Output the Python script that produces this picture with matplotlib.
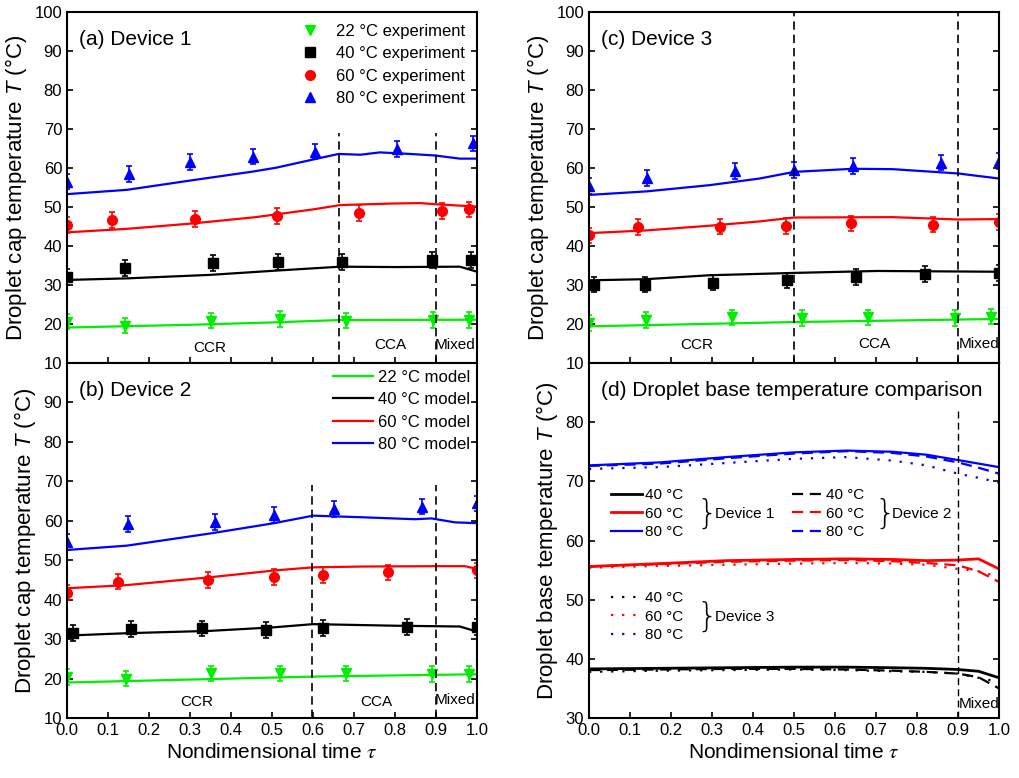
import matplotlib.pyplot as plt

plt.rcParams['font.family'] = ['Liberation Sans', 'DejaVu Sans']
plt.rcParams['mathtext.fontset'] = 'custom'
plt.rcParams['mathtext.it'] = 'Liberation Sans:italic'
plt.rcParams['mathtext.rm'] = 'Liberation Sans'

GREEN = '#00ee00'
COLORS = {22: GREEN, 40: 'black', 60: '#ff0000', 80: '#0000ff'}
MARKERS = {22: 'v', 40: 's', 60: 'o', 80: '^'}
ERR = 2.0

# ---- (a) Device 1 ----
A22_TAU = [0.0, 0.142, 0.35, 0.52, 0.68, 0.892, 0.981]
A22_T = [20.6, 19.6, 20.9, 21.3, 20.9, 21.1, 21.1]
A40_TAU = [0.0, 0.142, 0.355, 0.515, 0.67, 0.889, 0.985]
A40_T = [32.1, 34.4, 35.7, 35.9, 35.9, 36.4, 36.4]
A60_TAU = [0.0, 0.11, 0.312, 0.513, 0.713, 0.914, 0.981]
A60_T = [45.4, 46.7, 47.0, 47.7, 48.5, 49.0, 49.4]
A80_TAU = [0.0, 0.15, 0.30, 0.454, 0.605, 0.804, 0.989]
A80_T = [56.5, 58.5, 61.5, 62.9, 64.2, 64.9, 66.3]

A22M_TAU = [0, 0.3, 0.5, 0.66, 1.0]
A22M_T = [19.1, 19.8, 20.4, 21.0, 21.1]
A40M_TAU = [0, 0.146, 0.349, 0.511, 0.666, 0.8, 0.958, 1.0]
A40M_T = [31.3, 31.7, 32.6, 33.7, 34.7, 34.6, 34.7, 33.4]
A60M_TAU = [0, 0.146, 0.308, 0.46, 0.601, 0.666, 0.797, 0.862, 0.9, 1.0]
A60M_T = [43.5, 44.4, 45.8, 47.4, 49.4, 50.5, 50.9, 51.0, 50.7, 50.1]
A80M_TAU = [0, 0.146, 0.308, 0.454, 0.511, 0.601, 0.662, 0.715, 0.763, 0.837, 0.898, 0.958, 1.0]
A80M_T = [53.3, 54.4, 56.9, 59.1, 60.1, 62.2, 63.6, 63.4, 64.0, 63.6, 63.2, 62.4, 62.4]

# ---- (b) Device 2 ----
B22_TAU = [0.0, 0.143, 0.35, 0.52, 0.68, 0.89, 0.98]
B22_T = [20.3, 20.0, 21.3, 21.3, 21.3, 21.2, 21.2]
B40_TAU = [0.014, 0.155, 0.328, 0.485, 0.625, 0.83, 1.0]
B40_T = [31.5, 32.5, 32.7, 32.3, 32.8, 33.0, 33.0]
B60_TAU = [0.0, 0.125, 0.343, 0.505, 0.625, 0.782, 1.0]
B60_T = [41.8, 44.6, 44.9, 45.7, 46.3, 46.9, 47.4]
B80_TAU = [0.0, 0.148, 0.362, 0.505, 0.65, 0.866, 1.0]
B80_T = [54.7, 59.2, 59.6, 61.5, 63.0, 63.6, 64.4]

B22M_TAU = [0, 0.6, 1.0]
B22M_T = [19.0, 20.5, 21.1]
B40M_TAU = [0, 0.146, 0.35, 0.505, 0.6, 0.8, 0.958, 1.0]
B40M_T = [30.9, 31.5, 32.1, 33.0, 33.8, 33.4, 33.2, 31.9]
B60M_TAU = [0, 0.146, 0.35, 0.505, 0.6, 0.718, 0.9, 0.97, 1.0]
B60M_T = [42.9, 43.7, 45.7, 47.4, 48.2, 48.4, 48.5, 48.5, 47.8]
B80M_TAU = [0, 0.146, 0.35, 0.505, 0.6, 0.718, 0.848, 0.889, 0.946, 1.0]
B80M_T = [52.6, 53.7, 56.8, 59.4, 61.3, 60.9, 60.4, 60.6, 59.6, 59.4]

# ---- (c) Device 3 ----
C22_TAU = [0.0, 0.138, 0.349, 0.52, 0.68, 0.892, 0.981]
C22_T = [20.2, 21.1, 21.7, 21.6, 21.7, 21.6, 21.9]
C40_TAU = [0.012, 0.136, 0.302, 0.484, 0.65, 0.819, 1.0]
C40_T = [30.1, 30.1, 30.6, 31.2, 32.1, 32.8, 33.1]
C60_TAU = [0.0, 0.12, 0.32, 0.48, 0.64, 0.84, 1.0]
C60_T = [42.7, 44.8, 45.0, 45.2, 45.8, 45.5, 46.1]
C80_TAU = [0.0, 0.141, 0.357, 0.5, 0.644, 0.858, 1.0]
C80_T = [55.4, 57.4, 59.3, 59.5, 60.5, 61.4, 61.8]

C22M_TAU = [0, 0.5, 1.0]
C22M_T = [19.4, 20.5, 21.3]
C40M_TAU = [0, 0.14, 0.294, 0.5, 0.703, 1.0]
C40M_T = [31.2, 31.5, 32.5, 33.1, 33.6, 33.4]
C60M_TAU = [0, 0.14, 0.294, 0.416, 0.5, 0.741, 0.9, 1.0]
C60M_T = [43.3, 44.0, 45.2, 46.3, 47.3, 47.4, 46.8, 46.9]
C80M_TAU = [0, 0.14, 0.294, 0.416, 0.5, 0.644, 0.741, 0.9, 1.0]
C80M_T = [53.1, 54.0, 55.6, 57.3, 59.0, 59.8, 59.7, 58.6, 57.3]

# ---- (d) base temperature ----
D_TAU = [0, 0.172, 0.335, 0.5, 0.628, 0.741, 0.823, 0.9, 0.95, 1.0]
D1_40 = [38.3, 38.4, 38.5, 38.6, 38.6, 38.5, 38.4, 38.2, 37.9, 36.8]
D1_60 = [55.6, 56.1, 56.6, 56.8, 56.9, 56.8, 56.6, 56.7, 56.9, 55.2]
D1_80 = [72.7, 73.2, 74.1, 74.9, 75.2, 75.0, 74.5, 73.6, 73.0, 72.4]
D2_40 = [38.1, 38.2, 38.3, 38.3, 38.2, 38.0, 37.8, 37.5, 36.9, 35.0]
D2_60 = [55.6, 56.0, 56.4, 56.6, 56.7, 56.5, 56.2, 55.8, 54.8, 53.0]
D2_80 = [72.6, 73.0, 73.9, 74.7, 75.1, 74.8, 74.2, 73.2, 72.3, 71.3]
D3_40 = [37.8, 38.0, 38.1, 38.2, 38.1, 37.9, 37.8, 37.5, 36.8, 36.1]
D3_60 = [55.4, 55.7, 55.9, 56.1, 56.2, 56.1, 55.9, 55.2, 54.8, 53.9]
D3_80 = [72.1, 72.4, 73.1, 73.8, 74.1, 73.5, 72.7, 71.3, 70.6, 69.8]

XTICKS = [0.0, 0.1, 0.2, 0.3, 0.4, 0.5, 0.6, 0.7, 0.8, 0.9, 1.0]
CAP_TICKS = [10, 20, 30, 40, 50, 60, 70, 80, 90, 100]
BASE_TICKS = [30, 40, 50, 60, 70, 80]

CAP_LABEL = 'Droplet cap temperature $T$ (°C)'
BASE_LABEL = 'Droplet base temperature $T$ (°C)'
X_LABEL = 'Nondimensional time $\\tau$'


def style_axis(ax, yticks, ylim, show_x):
    ax.set_xlim(0, 1)
    ax.set_ylim(*ylim)
    ax.set_xticks(XTICKS)
    ax.set_yticks(yticks)
    ax.tick_params(direction='in', length=4, width=1.2, right=True,
                   labelsize=12, labelbottom=show_x)
    if show_x:
        ax.set_xticklabels(['%.1f' % t for t in XTICKS])
        ax.set_xlabel(X_LABEL, fontsize=15, math_fontfamily='stix')
    for s in ax.spines.values():
        s.set_linewidth(1.5)


def draw_cap_panel(ax, exp, model, vlines, vtop, regimes, title):
    for temp, (tau, T) in exp.items():
        ax.errorbar(tau, T, yerr=ERR, fmt='none', ecolor=COLORS[temp],
                    elinewidth=1.2, capsize=2.5, capthick=1.2)
        ax.plot(tau, T, MARKERS[temp], color=COLORS[temp], ms=7,
                label='%d °C experiment' % temp)
    for temp, (tau, T) in model.items():
        ax.plot(tau, T, '-', color=COLORS[temp], lw=1.6,
                label='%d °C model' % temp)
    ax.vlines(vlines, 10, vtop, colors='black', linestyles=(0, (5, 3)), lw=1.2)
    for name, (x, y) in regimes.items():
        ax.text(x, y, name, ha='center', va='center', fontsize=11)
    ax.text(0.03, 0.95, title, transform=ax.transAxes, fontsize=15,
            va='top', ha='left')


fig = plt.figure(figsize=(10.19, 7.78), dpi=100)
ax_a = fig.add_axes([0.0658, 0.5334, 0.4024, 0.4512])
ax_b = fig.add_axes([0.0658, 0.0771, 0.4024, 0.4563])
ax_c = fig.add_axes([0.578, 0.5334, 0.4024, 0.4512])
ax_d = fig.add_axes([0.578, 0.0771, 0.4024, 0.4563])

draw_cap_panel(ax_a,
               {22: (A22_TAU, A22_T), 40: (A40_TAU, A40_T),
                60: (A60_TAU, A60_T), 80: (A80_TAU, A80_T)},
               {22: (A22M_TAU, A22M_T), 40: (A40M_TAU, A40M_T),
                60: (A60M_TAU, A60M_T), 80: (A80M_TAU, A80M_T)},
               [0.664, 0.899], 69,
               {'CCR': (0.347, 13.9), 'CCA': (0.788, 14.7), 'Mixed': (0.947, 14.7)},
               '(a) Device 1')
draw_cap_panel(ax_b,
               {22: (B22_TAU, B22_T), 40: (B40_TAU, B40_T),
                60: (B60_TAU, B60_T), 80: (B80_TAU, B80_T)},
               {22: (B22M_TAU, B22M_T), 40: (B40M_TAU, B40M_T),
                60: (B60M_TAU, B60M_T), 80: (B80M_TAU, B80M_T)},
               [0.598, 0.9], 69,
               {'CCR': (0.316, 14.1), 'CCA': (0.754, 14.0), 'Mixed': (0.947, 14.6)},
               '(b) Device 2')
draw_cap_panel(ax_c,
               {22: (C22_TAU, C22_T), 40: (C40_TAU, C40_T),
                60: (C60_TAU, C60_T), 80: (C80_TAU, C80_T)},
               {22: (C22M_TAU, C22M_T), 40: (C40M_TAU, C40M_T),
                60: (C60M_TAU, C60M_T), 80: (C80M_TAU, C80M_T)},
               [0.5, 0.9], 100,
               {'CCR': (0.263, 14.7), 'CCA': (0.697, 14.9), 'Mixed': (0.951, 14.9)},
               '(c) Device 3')

# legends: experiment markers in (a), model lines in (b)
h, l = ax_a.get_legend_handles_labels()
ax_a.legend(h[:4], l[:4], loc='upper right', frameon=False, fontsize=12,
            handletextpad=0.8, labelspacing=0.45, borderaxespad=0.3,
            handlelength=1.5)
h, l = ax_b.get_legend_handles_labels()
ax_b.legend(h[4:], l[4:], loc='upper right', frameon=False, fontsize=12,
            handletextpad=0.3, labelspacing=0.45, borderaxespad=0.0,
            handlelength=2.4)

style_axis(ax_a, CAP_TICKS, (10, 100), False)
style_axis(ax_b, CAP_TICKS, (10, 100), True)
style_axis(ax_c, CAP_TICKS, (10, 100), False)
ax_b.set_yticklabels([str(t) for t in CAP_TICKS[:-1]] + [''])

# ---- (d) ----
styles = {1: '-', 2: (0, (5, 3)), 3: (0, (1, 4))}
base = {1: (D1_40, D1_60, D1_80), 2: (D2_40, D2_60, D2_80),
        3: (D3_40, D3_60, D3_80)}
dev_handles = {}
for dev, series in base.items():
    hs = []
    for temp, T in zip((40, 60, 80), series):
        lw = 2.0 if (dev == 1 and temp != 80) else 1.6
        line, = ax_d.plot(D_TAU, T, linestyle=styles[dev], color=COLORS[temp],
                          lw=lw, label='%d °C' % temp)
        hs.append(line)
    dev_handles[dev] = hs
ax_d.vlines([0.9], 30, 82, colors='black', linestyles=(0, (5, 3)), lw=1.0)
ax_d.text(0.951, 32.4, 'Mixed', ha='center', va='center', fontsize=11)
ax_d.text(0.03, 0.95, '(d) Droplet base temperature comparison',
          transform=ax_d.transAxes, fontsize=15, va='top', ha='left')

leg_pos = {1: (0.04, 0.665), 2: (0.48, 0.665), 3: (0.04, 0.375)}
brace_pos = {1: (0.262, 0.575), 2: (0.695, 0.575), 3: (0.262, 0.285)}
for dev in (1, 2, 3):
    leg = ax_d.legend(dev_handles[dev], [h.get_label() for h in dev_handles[dev]],
                      loc='upper left', bbox_to_anchor=leg_pos[dev],
                      frameon=False, fontsize=11, handlelength=2.0,
                      handletextpad=0.2, labelspacing=0.3, borderaxespad=0)
    if dev != 3:
        ax_d.add_artist(leg)
    bx, by = brace_pos[dev]
    ax_d.text(bx, by, '}', transform=ax_d.transAxes, fontsize=24,
              va='center', ha='left', family='DejaVu Sans',
              fontweight='light')
    ax_d.text(bx + 0.045, by, 'Device %d' % dev, transform=ax_d.transAxes,
              fontsize=11, va='center', ha='left')

style_axis(ax_d, BASE_TICKS, (30, 90), True)

ax_a.set_ylabel(CAP_LABEL, fontsize=16, labelpad=4)
ax_b.set_ylabel(CAP_LABEL, fontsize=16, labelpad=4)
ax_c.set_ylabel(CAP_LABEL, fontsize=16, labelpad=4)
ax_d.set_ylabel(BASE_LABEL, fontsize=16, labelpad=4)

fig.savefig('out.png', dpi=100)
